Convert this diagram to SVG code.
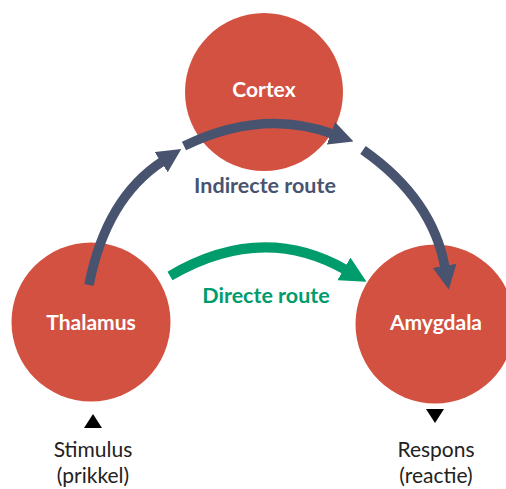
<svg xmlns="http://www.w3.org/2000/svg" width="506" height="489" viewBox="0 0 506 489">
<style>
.node{fill:#d35141}
.nl{font-family:Lato,"Open Sans",sans-serif;font-weight:700;font-size:21px;fill:#fff;text-anchor:middle}
.el{font-family:Lato,"Open Sans",sans-serif;font-weight:700;font-size:21.5px;text-anchor:middle}
.io{font-family:Lato,"Open Sans",sans-serif;font-size:21px;fill:#222;text-anchor:middle}
.ind{fill:none;stroke:#48546f;stroke-width:9.5}
.dir{fill:none;stroke:#009c6b;stroke-width:10}
</style>
<defs>
<marker id="ah-ind" markerUnits="userSpaceOnUse" markerWidth="24" markerHeight="24" viewBox="0 0 22 22" refX="2" refY="11" orient="auto"><path d="M0,0 L22,11 L0,22 z" fill="#48546f"/></marker>
<marker id="ah-dir" markerUnits="userSpaceOnUse" markerWidth="26" markerHeight="26" viewBox="0 0 22 22" refX="2" refY="11" orient="auto"><path d="M0,0 L22,11 L0,22 z" fill="#009c6b"/></marker>
</defs>
<g id="cortex"><circle class="node" cx="264" cy="92" r="79"/><text class="nl" x="264" y="97">Cortex</text></g>
<g id="thalamus"><circle class="node" cx="91" cy="322" r="79.5"/><text class="nl" x="91" y="330">Thalamus</text></g>
<g id="amygdala"><circle class="node" cx="435" cy="324" r="79.5"/><text class="nl" x="436" y="330">Amygdala</text></g>
<g id="connectors">
<path class="ind" d="M89,285 Q106,198 163,161" marker-end="url(#ah-ind)"/>
<path class="ind" d="M184,146 Q262,108 333,134" marker-end="url(#ah-ind)"/>
<path class="ind" d="M363,150 Q433,199 445,268" marker-end="url(#ah-ind)"/>
<path class="dir" d="M170,276 Q262,222 346,270" marker-end="url(#ah-dir)"/>
</g>
<text class="el" x="265" y="193" fill="#48546f">Indirecte route</text>
<text class="el" x="266" y="303" fill="#009c6b">Directe route</text>
<g id="stimulus"><path d="M93,414 L102,428 L84,428 z" fill="#000"/><text class="io" x="93" y="457">Stimulus</text><text class="io" x="93" y="483">(prikkel)</text></g>
<g id="respons"><path d="M426,409 L444,409 L435,423 z" fill="#000"/><text class="io" x="436" y="457">Respons</text><text class="io" x="436" y="483">(reactie)</text></g>
</svg>
